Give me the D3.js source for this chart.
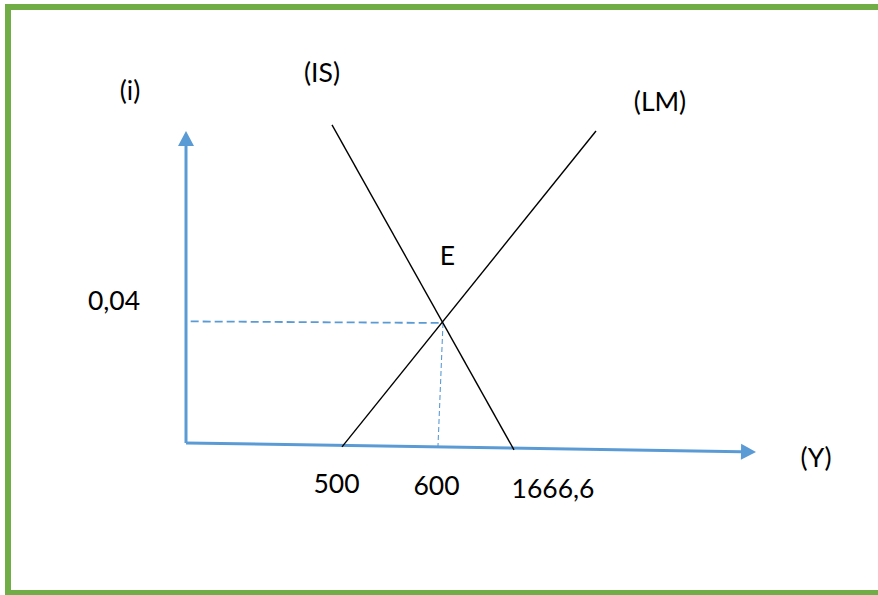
<!DOCTYPE html>
<html>
<head>
<meta charset="utf-8">
<script src="https://cdn.jsdelivr.net/npm/d3@7"></script>
<style>
  body { margin: 0; background: #fff; }
  text { font-family: Lato, "Open Sans", sans-serif; font-size: 26.5px; fill: #000; }
</style>
</head>
<body>
<svg id="chart" width="878" height="595"></svg>
<script>
const isCurve = [[468, 0.1019], [1666.6, -0.0023]];
const lmCurve = [[500, -0.0013], [1949, 0.1]];
const equilibrium = [600, 0.04];
const xAxisEnd = [2500, -0.003];
const yAxisEnd = [0, 0.1];
const hGuide = [[15, 0.0405], equilibrium];
const vGuide = [equilibrium, [595, -0.0013]];

const xTicks = [500, 600, 1666.6];
const xTickLabels = ["500", "600", "1666,6"];
const yTicks = [0.04];
const yTickLabels = ["0,04"];

// schematic, not proportional: piecewise scales
const x = d3.scaleLinear()
  .domain([0, 500, 600, 1666.6, 2500])
  .range([186, 342, 443, 514, 756]);
const y = d3.scaleLinear()
  .domain([0, 0.04, 0.1])
  .range([443, 323, 131]);

const blue = "#5B9BD5";
const svg = d3.select("#chart");
const g = svg.append("g");

// green frame
svg.append("rect")
  .attr("x", 8).attr("y", 7)
  .attr("width", 900).attr("height", 586)
  .style("fill", "none")
  .style("stroke", "#70AD47")
  .style("stroke-width", 6);

const line = d3.line().x(d => x(d[0])).y(d => y(d[1]));

// axis with a filled triangle head
function arrow(from, to) {
  const x0 = x(from[0]), y0 = y(from[1]);
  const x1 = x(to[0]), y1 = y(to[1]);
  const a = Math.atan2(y1 - y0, x1 - x0);
  const len = 15, hw = 8;
  const bx = x1 - len * Math.cos(a), by = y1 - len * Math.sin(a);
  g.append("line")
    .attr("x1", x0).attr("y1", y0)
    .attr("x2", bx).attr("y2", by)
    .style("stroke", blue).style("stroke-width", 3);
  const px = -Math.sin(a) * hw, py = Math.cos(a) * hw;
  g.append("path")
    .attr("d", `M${x1},${y1}L${bx + px},${by + py}L${bx - px},${by - py}Z`)
    .style("fill", blue);
}

// guides to E
g.append("path").datum(hGuide)
  .attr("d", line)
  .style("fill", "none").style("stroke", blue)
  .style("stroke-width", 1.8).style("stroke-dasharray", "8,4");
g.append("path").datum(vGuide)
  .attr("d", line)
  .style("fill", "none").style("stroke", blue)
  .style("stroke-width", 1.1).style("stroke-dasharray", "5,3");

arrow([0, 0], yAxisEnd);
arrow([0, 0], xAxisEnd);

g.append("path").datum(isCurve)
  .attr("d", line)
  .style("fill", "none").style("stroke", "#000").style("stroke-width", 1.4);
g.append("path").datum(lmCurve)
  .attr("d", line)
  .style("fill", "none").style("stroke", "#000").style("stroke-width", 1.4);

// tick labels under the Y axis
const xTickOffset = [[-5.5, 50], [-6.5, 52], [39, 55]];
g.selectAll(".xtick")
  .data(xTicks)
  .enter().append("text")
  .attr("class", "xtick")
  .attr("x", (d, i) => x(d) + xTickOffset[i][0])
  .attr("y", (d, i) => y(0) + xTickOffset[i][1])
  .style("text-anchor", "middle")
  .text((d, i) => xTickLabels[i]);

g.selectAll(".ytick")
  .data(yTicks)
  .enter().append("text")
  .attr("class", "ytick")
  .attr("x", x(0) - 72)
  .attr("y", d => y(d) - 13)
  .style("text-anchor", "middle")
  .text((d, i) => yTickLabels[i]);

// curve and axis names
const note = (pt, dx, dy, txt) => g.append("text")
  .attr("x", x(pt[0]) + dx).attr("y", y(pt[1]) + dy)
  .style("text-anchor", "middle").text(txt);

note(yAxisEnd, -56, -31, "(i)");
note(xAxisEnd, 60, 15, "(Y)");
note(isCurve[0], -10, -43, "(IS)");
note(lmCurve[1], 64, -20, "(LM)");
note(equilibrium, 4.5, -58, "E");
</script>
</body>
</html>
